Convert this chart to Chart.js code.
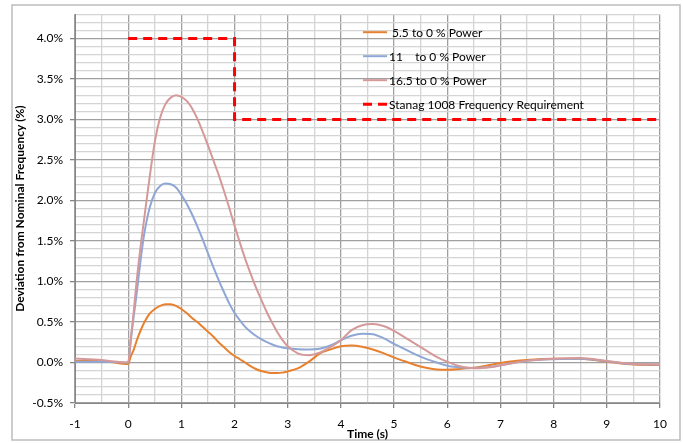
<!DOCTYPE html>
<html>
<head>
<meta charset="utf-8">
<script src="https://cdn.jsdelivr.net/npm/chart.js@4"></script>
<style>
html,body{margin:0;padding:0;background:#fff;}
#wrap{position:relative;width:683px;height:443px;}
</style>
</head>
<body>
<div id="wrap"><canvas id="c" width="683" height="443"></canvas></div>
<script>
// ---- data ----
const time = [-1,-0.5,0,0.05,0.1,0.15,0.2,0.25,0.3,0.4,0.5,0.6,0.7,0.8,0.9,1.0,1.1,1.2,1.3,1.4,1.5,1.6,1.7,1.8,1.9,2.0,2.1,2.2,2.3,2.4,2.5,2.6,2.7,2.8,2.9,3.0,3.2,3.4,3.6,3.8,4.0,4.2,4.4,4.6,4.8,5.0,5.2,5.4,5.6,5.8,6.0,6.2,6.4,6.6,6.8,7.0,7.5,8.0,8.5,9.0,9.5,10];
const power55 = [0.02,0.02,-0.02,0.08,0.15,0.25,0.34,0.42,0.49,0.6,0.66,0.7,0.72,0.72,0.7,0.66,0.61,0.55,0.5,0.44,0.38,0.32,0.25,0.19,0.13,0.08,0.04,0.0,-0.045,-0.08,-0.105,-0.12,-0.13,-0.13,-0.125,-0.11,-0.07,0.01,0.11,0.16,0.2,0.21,0.195,0.16,0.115,0.06,0.015,-0.03,-0.065,-0.085,-0.09,-0.083,-0.07,-0.055,-0.03,-0.005,0.03,0.045,0.045,0.01,-0.025,-0.03];
const power11 = [0.01,0.01,0.0,0.28,0.55,0.8,1.08,1.35,1.58,1.9,2.09,2.18,2.21,2.2,2.16,2.07,1.96,1.83,1.68,1.52,1.35,1.18,1.02,0.87,0.73,0.61,0.52,0.44,0.38,0.33,0.29,0.255,0.225,0.2,0.185,0.175,0.165,0.16,0.17,0.21,0.275,0.33,0.355,0.35,0.3,0.23,0.165,0.1,0.045,0.0,-0.04,-0.058,-0.068,-0.065,-0.055,-0.035,0.02,0.04,0.045,0.015,-0.02,-0.025];
const power165 = [0.05,0.03,0.0,0.3,0.6,0.95,1.25,1.52,1.77,2.27,2.72,3.02,3.19,3.27,3.3,3.28,3.23,3.14,3.01,2.85,2.68,2.5,2.32,2.12,1.91,1.69,1.48,1.28,1.1,0.93,0.78,0.63,0.5,0.38,0.28,0.2,0.11,0.09,0.12,0.19,0.275,0.4,0.46,0.475,0.45,0.39,0.31,0.23,0.15,0.07,0.01,-0.04,-0.065,-0.07,-0.06,-0.035,0.02,0.045,0.055,0.02,-0.015,-0.025];
const stanagTime = [0,2,2,10];
const stanagValue = [4,4,3,3];
const seriesNames = [' 5.5 to 0 % Power','11    to 0 % Power','16.5 to 0 % Power','Stanag 1008 Frequency Requirement'];
const xTitle = 'Time (s)';
const yTitle = 'Deviation from Nominal Frequency (%)';

const pts = (xs, ys) => xs.map((x,i)=>({x:x, y:ys[i]}));

const FONT = 'Lato, "Liberation Sans", sans-serif';

const framePlugin = {
  id:'frame',
  beforeDraw(chart){
    const ctx = chart.ctx;
    ctx.save();
    ctx.fillStyle='#fff';
    ctx.fillRect(0,0,chart.width,chart.height);
    ctx.strokeStyle='#BDBDBD';
    ctx.lineWidth=1.5;
    ctx.strokeRect(12,5,668,435);
    ctx.restore();
  }
};

const legendPlugin = {
  id:'boxLegend',
  afterDatasetsDraw(chart, args, opts){
    const ctx = chart.ctx;
    const a = chart.chartArea;
    const x0 = a.left + opts.dx, y0 = a.top + opts.dy;
    ctx.save();
    ctx.font = '12px ' + FONT;
    ctx.textBaseline='middle';
    ctx.textAlign='left';
    chart.data.datasets.forEach((ds, k)=>{
      const y = y0 + k*opts.gap;
      ctx.strokeStyle = ds.borderColor;
      ctx.lineWidth = ds.borderWidth;
      ctx.setLineDash(ds.borderDash || []);
      ctx.beginPath();
      ctx.moveTo(x0, y);
      ctx.lineTo(x0+24, y);
      ctx.stroke();
      ctx.setLineDash([]);
      ctx.fillStyle='#000';
      ctx.fillText(ds.label, x0+26, y+1);
    });
    ctx.restore();
  }
};

const isMajorY = v => Math.abs(Math.round(v*10)) % 5 === 0;
const isMajorX = v => Math.abs(v - Math.round(v)) < 1e-6;
const fmtPct = v => { let r = Math.round(v*10)/10; if (r === 0) r = 0; return r.toFixed(1) + '%'; };

new Chart(document.getElementById('c'), {
  type:'line',
  data:{
    datasets:[
      {label:seriesNames[0], data:pts(time,power55), borderColor:'#E8812E', borderWidth:2, pointRadius:0, cubicInterpolationMode:'monotone', order:3},
      {label:seriesNames[1], data:pts(time,power11), borderColor:'#8EA7D6', borderWidth:2, pointRadius:0, cubicInterpolationMode:'monotone', order:2},
      {label:seriesNames[2], data:pts(time,power165), borderColor:'#D5999A', borderWidth:2, pointRadius:0, cubicInterpolationMode:'monotone', order:1},
      {label:seriesNames[3], data:pts(stanagTime,stanagValue), borderColor:'#FF0000', borderWidth:3, borderDash:[9,6], pointRadius:0, tension:0, order:0}
    ]
  },
  options:{
    responsive:false,
    animation:false,
    events:[],
    layout:{padding:{left:12, right:23, top:14, bottom:0}},
    plugins:{
      legend:{display:false},
      tooltip:{enabled:false},
      boxLegend:{dx:288, dy:18, gap:24}
    },
    scales:{
      x:{
        type:'linear', min:-1, max:10,
        afterFit(s){ s.height = 40; },
        ticks:{stepSize:0.5, autoSkip:false, maxRotation:0, padding:9,
          font:{family:FONT, size:12}, color:'#000',
          callback:v => isMajorX(v) ? String(Math.round(v)) : ''},
        grid:{
          color:ctx => isMajorX(ctx.tick.value) ? '#A0A0A0' : '#D4D4D4',
          lineWidth:1.3,
          tickLength:5,
          tickColor:ctx => isMajorX(ctx.tick.value) ? '#868686' : 'rgba(0,0,0,0)'
        },
        border:{display:true, color:'#868686', width:1},
        title:{display:true, text:xTitle, font:{family:FONT, size:12, weight:'bold'}, color:'#000', padding:{top:0,bottom:2}}
      },
      y:{
        type:'linear', min:-0.5, max:4.3,
        afterFit(s){ s.width = 63; },
        ticks:{stepSize:0.1, autoSkip:false, padding:7,
          font:{family:FONT, size:12}, color:'#000',
          callback:v => isMajorY(v) ? fmtPct(v) : ''},
        grid:{
          color:ctx => isMajorY(ctx.tick.value) ? '#A0A0A0' : '#D4D4D4',
          lineWidth:1.3,
          tickLength:5,
          tickColor:ctx => isMajorY(ctx.tick.value) ? '#868686' : 'rgba(0,0,0,0)'
        },
        border:{display:true, color:'#868686', width:1},
        title:{display:true, text:yTitle, font:{family:FONT, size:12, weight:'bold'}, color:'#000', padding:{top:1,bottom:0}}
      }
    }
  },
  plugins:[framePlugin, legendPlugin]
});
</script>
</body>
</html>
